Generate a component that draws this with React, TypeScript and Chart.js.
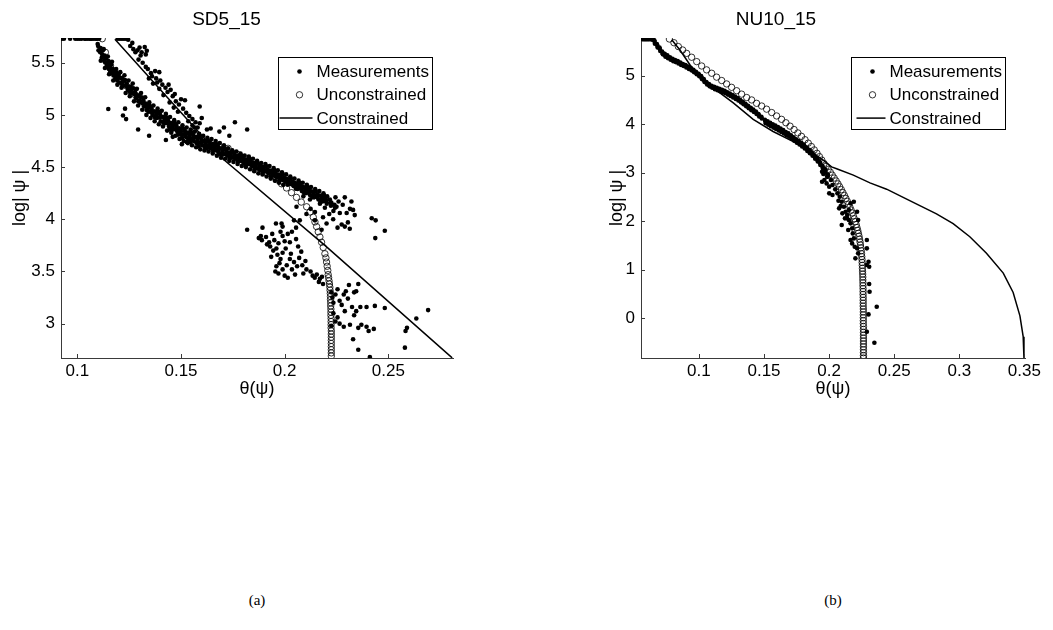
import React, { useEffect, useRef } from "react";
import { Chart, registerables } from "chart.js";

Chart.register(...registerables);

type Pt = [number, number];

const FONT = "'Liberation Sans', Arial, Helvetica, sans-serif";
const AXIS_COLOR = "#3a3a3a";

// ======================= SD5_15 (panel a) =======================
const sdXTicks = [0.1, 0.15, 0.2, 0.25];
const sdYTicks = [3, 3.5, 4, 4.5, 5, 5.5];

const sdTopRow: Pt[] = [
  [0.0925, 5.73], [0.0935, 5.73], [0.0965, 5.73], [0.099, 5.73], [0.1, 5.73], [0.101, 5.73],
  [0.102, 5.73], [0.1035, 5.73], [0.104, 5.73], [0.105, 5.73], [0.106, 5.73], [0.1065, 5.73],
  [0.107, 5.73], [0.108, 5.73], [0.109, 5.73], [0.1095, 5.73], [0.1105, 5.73], [0.1195, 5.73],
  [0.1205, 5.73], [0.1215, 5.73], [0.1225, 5.73], [0.1235, 5.73], [0.1245, 5.72],
];

const sdBand: Pt[] = [
  [0.110, 5.66], [0.1102, 5.62], [0.1098, 5.68], [0.111, 5.60], [0.1112, 5.64],
  [0.112, 5.58], [0.1118, 5.55], [0.1123, 5.62], [0.113, 5.52], [0.1132, 5.57],
  [0.114, 5.50], [0.1138, 5.54], [0.1142, 5.47], [0.115, 5.49], [0.1152, 5.44],
  [0.116, 5.45], [0.1158, 5.41], [0.1163, 5.48], [0.117, 5.40], [0.1172, 5.44],
  [0.118, 5.38], [0.1178, 5.42], [0.1183, 5.35], [0.119, 5.37], [0.1192, 5.33],
  [0.120, 5.36], [0.1203, 5.31], [0.1198, 5.39], [0.122, 5.32], [0.1222, 5.28], [0.1218, 5.35],
  [0.124, 5.27], [0.1238, 5.30], [0.1243, 5.24], [0.126, 5.24], [0.1262, 5.21], [0.1257, 5.27],
  [0.128, 5.19], [0.1278, 5.22], [0.1283, 5.16], [0.130, 5.14], [0.1297, 5.18], [0.1303, 5.12],
  [0.132, 5.11], [0.1322, 5.08], [0.1318, 5.14], [0.134, 5.06], [0.1338, 5.09], [0.1343, 5.03],
  [0.136, 5.03], [0.1358, 5.06], [0.1362, 5.00], [0.138, 5.00], [0.1383, 4.97], [0.1377, 5.03],
  [0.140, 4.98], [0.1402, 4.94], [0.1398, 5.01], [0.142, 4.95], [0.1423, 4.92], [0.1418, 4.98],
  [0.144, 4.92], [0.1442, 4.89], [0.1437, 4.95], [0.1445, 4.86],
  [0.146, 4.89], [0.1463, 4.86], [0.1458, 4.92],
  [0.148, 4.87], [0.1482, 4.84], [0.1477, 4.90], [0.1485, 4.81],
  [0.150, 4.84], [0.1502, 4.81], [0.1497, 4.87], [0.1505, 4.78],
  [0.152, 4.82], [0.1523, 4.79], [0.1518, 4.85],
  [0.154, 4.80], [0.1542, 4.77], [0.1537, 4.83], [0.1545, 4.74],
  [0.156, 4.78], [0.1562, 4.75], [0.1558, 4.81],
  [0.158, 4.76], [0.1582, 4.73], [0.1577, 4.79], [0.1585, 4.70],
  [0.160, 4.74], [0.1603, 4.71], [0.1598, 4.77],
  [0.162, 4.72], [0.1622, 4.69], [0.1617, 4.75], [0.1625, 4.68],
  [0.164, 4.71], [0.1642, 4.68], [0.1638, 4.74], [0.166, 4.69], [0.1663, 4.66], [0.1657, 4.72],
  [0.168, 4.67], [0.1682, 4.64], [0.1678, 4.70], [0.170, 4.65], [0.1702, 4.62], [0.1697, 4.68],
  [0.172, 4.63], [0.1723, 4.61], [0.1718, 4.66], [0.174, 4.61], [0.1742, 4.59], [0.1738, 4.64],
  [0.176, 4.60], [0.1763, 4.58], [0.1757, 4.62], [0.178, 4.58], [0.1782, 4.56], [0.1778, 4.61],
  [0.180, 4.56], [0.1803, 4.54], [0.1797, 4.59], [0.182, 4.55], [0.1822, 4.53], [0.1818, 4.57],
  [0.184, 4.53], [0.1843, 4.51], [0.1837, 4.55], [0.186, 4.51], [0.1862, 4.49], [0.1858, 4.54],
  [0.188, 4.49], [0.1883, 4.47], [0.1877, 4.52], [0.190, 4.48], [0.1902, 4.46], [0.1898, 4.50],
  [0.192, 4.46], [0.1923, 4.44], [0.1917, 4.48], [0.194, 4.44], [0.1942, 4.42], [0.1938, 4.46],
  [0.196, 4.42], [0.1963, 4.40], [0.1957, 4.44], [0.198, 4.40], [0.1982, 4.38], [0.1978, 4.42],
  [0.200, 4.38], [0.2003, 4.36], [0.1997, 4.40], [0.202, 4.36], [0.2022, 4.34], [0.2018, 4.38],
  [0.204, 4.34], [0.2043, 4.32], [0.2037, 4.36], [0.206, 4.32], [0.2062, 4.29], [0.2058, 4.34],
  [0.208, 4.30], [0.2083, 4.27], [0.2077, 4.32], [0.210, 4.28], [0.2102, 4.25], [0.2098, 4.30],
  [0.212, 4.26], [0.2123, 4.23], [0.2117, 4.28], [0.214, 4.24], [0.2142, 4.21], [0.2138, 4.26],
  [0.216, 4.22], [0.2163, 4.19], [0.2157, 4.24], [0.218, 4.20], [0.2182, 4.17], [0.2178, 4.22],
  [0.220, 4.18], [0.2203, 4.15], [0.2197, 4.20], [0.222, 4.16], [0.2223, 4.13],
  [0.224, 4.14], [0.2243, 4.11],
];

const sdBandEdges: Pt[] = [
  [0.1127, 5.63], [0.1113, 5.52], [0.1147, 5.56], [0.1133, 5.45], [0.1167, 5.51], [0.1153, 5.39],
  [0.1187, 5.44], [0.1173, 5.33], [0.1207, 5.41], [0.1193, 5.29], [0.1227, 5.38], [0.1213, 5.26],
  [0.1247, 5.33], [0.1233, 5.21], [0.1267, 5.30], [0.1253, 5.18], [0.1287, 5.25], [0.1273, 5.13],
  [0.1307, 5.21], [0.1293, 5.09], [0.1327, 5.17], [0.1313, 5.05], [0.1347, 5.12], [0.1333, 5.00],
  [0.1367, 5.09], [0.1353, 4.97], [0.1387, 5.06], [0.1373, 4.94], [0.1407, 5.04], [0.1393, 4.91],
  [0.1427, 5.01], [0.1413, 4.89], [0.1447, 4.98], [0.1433, 4.85], [0.1467, 4.95], [0.1453, 4.83],
  [0.1487, 4.93], [0.1473, 4.80], [0.1507, 4.90], [0.1493, 4.77], [0.1527, 4.88], [0.1513, 4.75],
  [0.1547, 4.86], [0.1533, 4.73], [0.1567, 4.84], [0.1553, 4.71], [0.1587, 4.82], [0.1573, 4.69],
  [0.1607, 4.80], [0.1593, 4.67], [0.1627, 4.78], [0.1613, 4.66], [0.1647, 4.77], [0.1633, 4.65],
  [0.1667, 4.75], [0.1653, 4.63], [0.1687, 4.73], [0.1673, 4.61], [0.1707, 4.71], [0.1693, 4.59],
  [0.1727, 4.68], [0.1713, 4.58], [0.1747, 4.66], [0.1733, 4.56], [0.1767, 4.65], [0.1753, 4.55],
  [0.1787, 4.63], [0.1773, 4.53], [0.1807, 4.61], [0.1793, 4.51], [0.1827, 4.60], [0.1813, 4.50],
  [0.1847, 4.58], [0.1833, 4.48], [0.1867, 4.56], [0.1853, 4.46], [0.1887, 4.54], [0.1873, 4.44],
  [0.1907, 4.53], [0.1893, 4.43], [0.1927, 4.51], [0.1913, 4.41], [0.1947, 4.49], [0.1933, 4.39],
  [0.1967, 4.47], [0.1953, 4.37], [0.1987, 4.45], [0.1973, 4.35], [0.2007, 4.43], [0.1993, 4.33],
  [0.2027, 4.41], [0.2047, 4.39], [0.2067, 4.37], [0.2087, 4.35], [0.2107, 4.33], [0.2127, 4.31],
  [0.2147, 4.29], [0.2167, 4.27], [0.2187, 4.25],
];

const sdBandFill: Pt[] = [
  [0.113, 5.558], [0.1134, 5.502], [0.115, 5.515], [0.1154, 5.46], [0.117, 5.433], [0.1174, 5.377],
  [0.119, 5.405], [0.1194, 5.35], [0.121, 5.353], [0.1214, 5.297], [0.123, 5.335], [0.1234, 5.28],
  [0.125, 5.273], [0.1254, 5.217], [0.127, 5.255], [0.1274, 5.20], [0.129, 5.188], [0.1294, 5.132],
  [0.131, 5.17], [0.1314, 5.115], [0.133, 5.103], [0.1334, 5.047], [0.135, 5.085], [0.1354, 5.03],
  [0.137, 5.033], [0.1374, 4.977], [0.139, 5.03], [0.1394, 4.975], [0.141, 4.983], [0.1414, 4.927],
  [0.143, 4.975], [0.1434, 4.92], [0.145, 4.923], [0.1454, 4.867], [0.147, 4.92], [0.1474, 4.865],
  [0.149, 4.873], [0.1494, 4.817], [0.151, 4.87], [0.1514, 4.815], [0.153, 4.828], [0.1534, 4.772],
  [0.155, 4.83], [0.1554, 4.775], [0.157, 4.788], [0.1574, 4.732], [0.159, 4.79], [0.1594, 4.735],
  [0.161, 4.748], [0.1614, 4.692], [0.163, 4.755], [0.1634, 4.70], [0.165, 4.718], [0.1654, 4.662],
  [0.167, 4.72], [0.1674, 4.665], [0.169, 4.678], [0.1694, 4.622], [0.171, 4.68], [0.1714, 4.625],
  [0.173, 4.638], [0.1734, 4.582], [0.175, 4.645], [0.1754, 4.59], [0.177, 4.608], [0.1774, 4.552],
  [0.179, 4.61], [0.1794, 4.555], [0.181, 4.573], [0.1814, 4.517], [0.183, 4.58], [0.1834, 4.525],
  [0.185, 4.538], [0.1854, 4.482], [0.187, 4.54], [0.1874, 4.485], [0.189, 4.503], [0.1894, 4.447],
  [0.191, 4.51], [0.1914, 4.455], [0.193, 4.468], [0.1934, 4.412], [0.195, 4.47], [0.1954, 4.415],
  [0.197, 4.428], [0.1974, 4.372], [0.199, 4.43], [0.1994, 4.375], [0.201, 4.388], [0.2014, 4.332],
  [0.203, 4.39], [0.2034, 4.335], [0.205, 4.348], [0.2054, 4.292], [0.207, 4.35], [0.2074, 4.295],
  [0.209, 4.308], [0.2094, 4.252], [0.211, 4.31], [0.2114, 4.255], [0.213, 4.268], [0.2134, 4.212],
  [0.215, 4.27], [0.2154, 4.215], [0.217, 4.228], [0.2174, 4.172], [0.219, 4.23], [0.2194, 4.175],
];

const sdUpperBranch: Pt[] = [
  [0.1255, 5.66], [0.1265, 5.69], [0.127, 5.63], [0.128, 5.60], [0.129, 5.62], [0.130, 5.645],
  [0.1305, 5.57], [0.131, 5.60], [0.1325, 5.65], [0.133, 5.58], [0.1335, 5.615], [0.1295, 5.53],
  [0.1315, 5.50], [0.133, 5.46], [0.134, 5.44], [0.1355, 5.40], [0.136, 5.37], [0.1375, 5.42],
  [0.138, 5.35], [0.1385, 5.31], [0.1395, 5.41], [0.140, 5.33], [0.141, 5.29], [0.1425, 5.26],
  [0.1435, 5.22], [0.144, 5.29], [0.145, 5.24], [0.146, 5.18], [0.147, 5.20], [0.1475, 5.13],
  [0.149, 5.10], [0.150, 5.15], [0.151, 5.06], [0.1519, 5.14], [0.1525, 5.02], [0.154, 4.99],
  [0.1555, 4.96], [0.157, 4.93], [0.159, 5.08], [0.160, 4.97], [0.159, 4.92], [0.1643, 4.87],
  [0.1707, 4.88], [0.176, 4.93], [0.1819, 4.86], [0.1733, 4.80], [0.1685, 4.84], [0.1625, 4.86],
  [0.1555, 4.90], [0.158, 4.88], [0.1345, 5.35], [0.1365, 5.30], [0.1395, 5.25], [0.1415, 5.19],
  [0.1445, 5.12], [0.1465, 5.07], [0.1485, 5.03], [0.1535, 4.94], [0.1565, 4.88],
];

const sdStray: Pt[] = [
  [0.1149, 5.057], [0.123, 5.06], [0.122, 4.995], [0.1235, 4.96], [0.1293, 4.86], [0.1346, 4.80],
  [0.1427, 4.76], [0.146, 4.79], [0.1504, 4.72], [0.1527, 4.74],
];

const sdBandEnd: Pt[] = [
  [0.2057, 4.12], [0.2073, 3.99], [0.209, 4.22], [0.2122, 4.19], [0.2146, 4.07], [0.2146, 3.99],
  [0.217, 4.15], [0.2178, 3.90], [0.2194, 4.11], [0.2202, 3.96], [0.2218, 4.19], [0.2234, 4.00],
  [0.225, 4.12], [0.2266, 4.06], [0.229, 3.93], [0.2299, 4.06], [0.2314, 3.91], [0.2322, 4.17],
  [0.233, 4.09], [0.2338, 4.04], [0.226, 4.17], [0.2245, 4.21], [0.228, 4.14], [0.2305, 3.97],
  [0.2275, 3.95], [0.2215, 4.05], [0.2185, 4.02], [0.2125, 4.10], [0.2105, 4.05], [0.2235, 4.08],
  [0.2255, 3.92], [0.2315, 4.10], [0.2205, 4.22], [0.2225, 4.16], [0.229, 4.21],
];

const sdCluster: Pt[] = [
  [0.1819, 3.90], [0.1893, 3.92], [0.1885, 3.84], [0.1875, 3.82], [0.189, 3.80], [0.191, 3.83],
  [0.1925, 3.78], [0.193, 3.74], [0.1915, 3.76], [0.194, 3.86], [0.195, 3.80], [0.196, 3.72],
  [0.1945, 3.70], [0.1965, 3.66], [0.197, 3.77], [0.198, 3.88], [0.199, 3.84], [0.200, 3.79],
  [0.2015, 3.86], [0.2005, 3.72], [0.199, 3.68], [0.198, 3.62], [0.1975, 3.58], [0.196, 3.55],
  [0.1955, 3.50], [0.197, 3.48], [0.199, 3.52], [0.200, 3.46], [0.201, 3.56], [0.2025, 3.62],
  [0.203, 3.67], [0.2045, 3.59], [0.2035, 3.52], [0.205, 3.47], [0.206, 3.55], [0.207, 3.63],
  [0.208, 3.69], [0.2065, 3.74], [0.2055, 3.81], [0.2035, 3.88], [0.2055, 3.92], [0.2085, 3.56],
  [0.210, 3.60], [0.2105, 3.52], [0.209, 3.48], [0.1985, 3.96], [0.2045, 3.99], [0.1958, 3.96],
  [0.199, 3.93], [0.2025, 3.78], [0.1935, 3.64], [0.2015, 3.44],
  [0.2125, 3.50], [0.2135, 3.46], [0.2145, 3.44], [0.2155, 3.47], [0.217, 3.43], [0.2165, 3.40],
  [0.218, 3.45], [0.2185, 3.38],
];

const sdTail: Pt[] = [
  [0.2225, 3.30], [0.223, 3.25], [0.2235, 3.20], [0.2245, 3.28], [0.2255, 3.33], [0.2265, 3.22],
  [0.2275, 3.18], [0.2285, 3.28], [0.2295, 3.31], [0.2305, 3.24], [0.231, 3.37], [0.2325, 3.16],
  [0.2335, 3.30], [0.2355, 3.38], [0.2345, 3.31], [0.2345, 3.12], [0.2335, 3.08], [0.229, 3.12],
  [0.2255, 3.06], [0.2245, 3.02], [0.2265, 3.00], [0.2235, 3.10], [0.2225, 2.98], [0.2285, 2.97],
  [0.2315, 2.99], [0.2365, 3.16], [0.2395, 3.16], [0.2435, 3.17], [0.2483, 3.15], [0.2355, 2.96],
  [0.237, 2.99], [0.2395, 2.97], [0.2405, 2.93], [0.243, 2.95], [0.233, 2.85], [0.2355, 2.75],
  [0.2411, 2.68], [0.2583, 2.93], [0.259, 2.96], [0.2635, 3.05], [0.2692, 3.13], [0.258, 2.77],
  [0.242, 4.01], [0.2439, 3.99], [0.2483, 3.89], [0.2437, 3.82],
];

const sdUnconstrained: Pt[] = [
  [0.112, 5.73], [0.1135, 5.60], [0.116, 5.47], [0.1195, 5.37], [0.1235, 5.28], [0.128, 5.19],
  [0.1325, 5.10], [0.137, 5.02], [0.1415, 4.96], [0.146, 4.89], [0.1505, 4.84], [0.155, 4.79],
  [0.1595, 4.75], [0.164, 4.72], [0.1685, 4.69], [0.1727, 4.68], [0.1775, 4.62], [0.1825, 4.56],
  [0.187, 4.50], [0.1915, 4.44], [0.196, 4.38], [0.1985, 4.34], [0.2009, 4.30], [0.2033, 4.255],
  [0.2057, 4.21], [0.208, 4.165], [0.2106, 4.12], [0.2122, 4.07], [0.2138, 4.02], [0.2146, 3.975],
  [0.2154, 3.93], [0.2162, 3.88], [0.217, 3.83], [0.2178, 3.78], [0.2186, 3.73], [0.2194, 3.67],
  [0.2199, 3.63], [0.2202, 3.59], [0.2205, 3.55], [0.2208, 3.51], [0.221, 3.47], [0.2212, 3.44],
  [0.2214, 3.41], [0.2216, 3.38], [0.2218, 3.35], [0.2219, 3.32], [0.222, 3.29], [0.2221, 3.26],
  [0.2221, 3.23], [0.2222, 3.20], [0.2222, 3.17], [0.2223, 3.14], [0.2223, 3.11], [0.2223, 3.08],
  [0.2224, 3.05], [0.2224, 3.02], [0.2224, 2.99], [0.2224, 2.96], [0.2225, 2.93], [0.2225, 2.90],
  [0.2225, 2.87], [0.2225, 2.84], [0.2225, 2.81], [0.2225, 2.78], [0.2225, 2.75], [0.2225, 2.72],
  [0.2225, 2.69],
];

const sdConstrained: Pt[] = [
  [0.1181, 5.725], [0.1431, 5.175], [0.1704, 4.575], [0.2194, 3.75], [0.2808, 2.672],
];

// ======================= NU10_15 (panel b) =======================
const nuXTicks = [0.1, 0.15, 0.2, 0.25, 0.3, 0.35];
const nuYTicks = [0, 1, 2, 3, 4, 5];

const nuTopRow: Pt[] = [
  [0.057, 5.75], [0.058, 5.75], [0.059, 5.75], [0.060, 5.75], [0.061, 5.75], [0.062, 5.75],
];

const nuBandUpper: Pt[] = [
  [0.0640, 5.74], [0.0648, 5.75],
  [0.0660, 5.70], [0.0662, 5.66], [0.0657, 5.73], [0.0680, 5.62], [0.0683, 5.58], [0.0677, 5.65],
  [0.0700, 5.55], [0.0703, 5.51], [0.0697, 5.58], [0.0720, 5.47], [0.0723, 5.44], [0.0717, 5.50],
  [0.0740, 5.42], [0.0743, 5.39], [0.0737, 5.45], [0.0760, 5.39], [0.0763, 5.36], [0.0757, 5.42],
  [0.0780, 5.36], [0.0783, 5.33], [0.0777, 5.38], [0.0800, 5.33], [0.0803, 5.30], [0.0797, 5.35],
  [0.0820, 5.30], [0.0823, 5.28], [0.0817, 5.32], [0.0840, 5.28], [0.0843, 5.25], [0.0837, 5.30],
  [0.0860, 5.25], [0.0863, 5.22], [0.0857, 5.27], [0.0880, 5.22], [0.0883, 5.20], [0.0877, 5.24],
  [0.0900, 5.20], [0.0903, 5.17], [0.0897, 5.22], [0.0920, 5.17], [0.0923, 5.14], [0.0917, 5.19],
  [0.0940, 5.14], [0.0943, 5.11], [0.0937, 5.16], [0.0960, 5.10], [0.0963, 5.07], [0.0957, 5.12],
  [0.0980, 5.06], [0.0983, 5.03], [0.0977, 5.08], [0.1000, 5.02], [0.1003, 4.99], [0.0997, 5.04],
  [0.1020, 4.96], [0.1023, 4.93], [0.1017, 4.99], [0.1040, 4.90], [0.1043, 4.87], [0.1037, 4.93],
  [0.1060, 4.85], [0.1063, 4.82], [0.1057, 4.87], [0.1080, 4.80], [0.1083, 4.78], [0.1077, 4.83],
  [0.1100, 4.77], [0.1103, 4.75], [0.1097, 4.79], [0.1120, 4.75], [0.1123, 4.72], [0.1117, 4.77],
  [0.1140, 4.73], [0.1143, 4.70], [0.1137, 4.75], [0.1160, 4.71], [0.1163, 4.68], [0.1157, 4.73],
  [0.1180, 4.69], [0.1183, 4.66], [0.1177, 4.71], [0.1200, 4.67], [0.1203, 4.64], [0.1197, 4.69],
  [0.1220, 4.64], [0.1223, 4.61], [0.1217, 4.66], [0.1240, 4.61], [0.1243, 4.58], [0.1237, 4.63],
  [0.1260, 4.58], [0.1263, 4.55], [0.1257, 4.60], [0.1280, 4.55], [0.1283, 4.52], [0.1277, 4.57],
  [0.1300, 4.52], [0.1303, 4.49], [0.1297, 4.54], [0.1320, 4.48], [0.1323, 4.45], [0.1317, 4.50],
  [0.1340, 4.44], [0.1343, 4.41], [0.1337, 4.46], [0.1360, 4.40], [0.1363, 4.37], [0.1357, 4.42],
  [0.1380, 4.36], [0.1383, 4.33], [0.1377, 4.38], [0.1400, 4.32], [0.1403, 4.29], [0.1397, 4.34],
  [0.1420, 4.28], [0.1423, 4.25], [0.1417, 4.30], [0.1440, 4.24], [0.1443, 4.21], [0.1437, 4.26],
  [0.1460, 4.19], [0.1463, 4.16], [0.1457, 4.21], [0.1480, 4.15], [0.1483, 4.12],
];

const nuBandLower: Pt[] = [
  [0.1510, 4.06], [0.1513, 4.02], [0.1507, 4.09], [0.1530, 4.03], [0.1533, 3.99], [0.1527, 4.06],
  [0.1550, 4.00], [0.1553, 3.96], [0.1547, 4.03], [0.1570, 3.97], [0.1573, 3.93], [0.1567, 4.00],
  [0.1590, 3.94], [0.1593, 3.90], [0.1587, 3.97], [0.1610, 3.91], [0.1613, 3.87], [0.1607, 3.94],
  [0.1630, 3.88], [0.1633, 3.84], [0.1627, 3.91], [0.1650, 3.85], [0.1653, 3.81], [0.1647, 3.88],
  [0.1670, 3.81], [0.1673, 3.77], [0.1667, 3.84], [0.1690, 3.78], [0.1693, 3.74], [0.1687, 3.81],
  [0.1710, 3.74], [0.1713, 3.70], [0.1707, 3.77], [0.1730, 3.70], [0.1733, 3.66], [0.1727, 3.73],
  [0.1750, 3.66], [0.1753, 3.62], [0.1747, 3.69], [0.1770, 3.62], [0.1773, 3.58], [0.1767, 3.65],
  [0.1790, 3.58], [0.1793, 3.54], [0.1787, 3.61], [0.1810, 3.54], [0.1813, 3.50], [0.1807, 3.57],
  [0.1830, 3.49], [0.1833, 3.45], [0.1827, 3.52], [0.1850, 3.44], [0.1853, 3.40], [0.1847, 3.47],
  [0.1870, 3.39], [0.1873, 3.35], [0.1867, 3.42], [0.1890, 3.33], [0.1893, 3.29], [0.1887, 3.36],
  [0.1910, 3.27], [0.1913, 3.23], [0.1907, 3.30], [0.1930, 3.20], [0.1933, 3.16], [0.1927, 3.23],
  [0.1950, 3.12], [0.1953, 3.08], [0.1947, 3.15], [0.1970, 3.04], [0.1968, 3.00],
  [0.1990, 2.96], [0.1985, 2.92],
];

const nuDrop: Pt[] = [
  [0.1946, 3.021], [0.1971, 3.069], [0.1989, 2.918], [0.1964, 2.849], [0.2014, 2.849],
  [0.2026, 2.746], [0.2001, 2.712], [0.2047, 2.657], [0.2064, 2.574], [0.2026, 2.540],
  [0.2082, 2.505], [0.2072, 2.423], [0.2097, 2.402], [0.2089, 2.313], [0.2114, 2.299],
  [0.2077, 2.265], [0.2127, 2.196], [0.2102, 2.162], [0.2139, 2.127], [0.2122, 2.059],
  [0.2152, 2.024], [0.2097, 1.921], [0.2165, 1.956], [0.2177, 1.853], [0.2147, 1.818],
  [0.2182, 1.749], [0.2165, 1.612], [0.2190, 1.646], [0.2177, 1.543], [0.2197, 1.474],
  [0.2202, 1.234], [0.2223, 1.337], [0.2215, 1.440], [0.2190, 2.402], [0.2215, 2.196],
  [0.2223, 2.024], [0.2290, 1.612], [0.2290, 1.440], [0.2303, 1.165], [0.2308, 1.062],
  [0.2290, 1.097], [0.2308, 0.705], [0.2311, 0.547], [0.2303, 0.079], [0.2366, 0.237],
  [0.2290, -0.278], [0.2348, -0.505], [0.1946, 2.815], [0.1956, 2.973], [0.1981, 2.780],
  [0.2001, 2.574], [0.2152, 2.230], [0.2165, 2.368], [0.2139, 2.059],
];

const nuUnconstrained: Pt[] = [
  [0.0773, 5.756], [0.0808, 5.68], [0.0842, 5.60], [0.0875, 5.53], [0.0906, 5.46], [0.0944, 5.38],
  [0.0983, 5.29], [0.1021, 5.20], [0.1059, 5.12], [0.1098, 5.05], [0.1136, 4.97], [0.1175, 4.90],
  [0.1213, 4.83], [0.1251, 4.76], [0.129, 4.69], [0.1328, 4.62], [0.1367, 4.55], [0.1405, 4.50],
  [0.1443, 4.43], [0.1482, 4.375], [0.152, 4.31], [0.1559, 4.24], [0.1597, 4.17], [0.1635, 4.10],
  [0.1668, 4.03], [0.1700, 3.96], [0.1731, 3.89], [0.1760, 3.82], [0.1788, 3.75], [0.1815, 3.68],
  [0.1840, 3.61], [0.1864, 3.54], [0.1886, 3.47], [0.1907, 3.40], [0.1926, 3.33], [0.1944, 3.26],
  [0.1961, 3.19], [0.1977, 3.13], [0.1993, 3.07], [0.2009, 3.01], [0.2024, 2.95], [0.2039, 2.89],
  [0.2054, 2.83], [0.2068, 2.77], [0.2081, 2.71], [0.2094, 2.65], [0.2106, 2.59], [0.2118, 2.53],
  [0.2129, 2.47], [0.2140, 2.41], [0.2150, 2.35], [0.2160, 2.29], [0.2169, 2.23], [0.2178, 2.17],
  [0.2186, 2.11], [0.2194, 2.05], [0.2201, 1.99], [0.2208, 1.93], [0.2214, 1.87], [0.2220, 1.81],
  [0.2225, 1.75], [0.2230, 1.69], [0.2234, 1.63], [0.2238, 1.57], [0.2241, 1.51], [0.2244, 1.45],
  [0.2247, 1.39], [0.2249, 1.33], [0.2251, 1.27], [0.2253, 1.21], [0.2254, 1.15], [0.2255, 1.09],
  [0.2256, 1.03], [0.2257, 0.97], [0.2258, 0.91], [0.2259, 0.85], [0.2259, 0.79], [0.2260, 0.73],
  [0.2260, 0.67], [0.2261, 0.61], [0.2261, 0.55], [0.2261, 0.49], [0.2262, 0.43], [0.2262, 0.37],
  [0.2262, 0.31], [0.2262, 0.25], [0.2263, 0.19], [0.2263, 0.13], [0.2263, 0.07], [0.2263, 0.01],
  [0.2263, -0.05], [0.2263, -0.11], [0.2264, -0.17], [0.2264, -0.23], [0.2264, -0.29],
  [0.2264, -0.35], [0.2264, -0.41], [0.2264, -0.47], [0.2264, -0.53], [0.2264, -0.59],
  [0.2264, -0.65], [0.2264, -0.71], [0.2264, -0.77], [0.2264, -0.82],
];

const nuConstrained: Pt[] = [
  [0.0791, 5.74], [0.0854, 5.53], [0.0932, 5.22], [0.1008, 4.97], [0.111, 4.75], [0.1264, 4.44],
  [0.1417, 4.10], [0.157, 3.85], [0.1725, 3.64], [0.1878, 3.40], [0.1955, 3.26], [0.2019, 3.12],
  [0.2058, 3.08], [0.2186, 2.95], [0.2314, 2.79], [0.2442, 2.66], [0.2569, 2.49], [0.2697, 2.32],
  [0.2825, 2.15], [0.2953, 1.95], [0.3081, 1.68], [0.3209, 1.34], [0.3338, 0.93], [0.3414, 0.53],
  [0.3466, 0.05], [0.3491, -0.38], [0.3497, -0.82],
];

// ======================= chart building =======================
const toXY = (pts: Pt[]) => pts.map(([x, y]) => ({ x, y }));

const decorPlugin = {
  id: "matlabDecor",
  afterDraw(chart: any, _args: any, opts: any) {
    const { ctx, chartArea: a, scales } = chart;
    ctx.save();
    ctx.strokeStyle = AXIS_COLOR;
    ctx.lineWidth = 1;
    ctx.beginPath();
    for (const t of scales.x.ticks) {
      const px = Math.round(scales.x.getPixelForValue(t.value)) + 0.5;
      ctx.moveTo(px, a.bottom);
      ctx.lineTo(px, a.bottom - 4);
    }
    for (const t of scales.y.ticks) {
      const py = Math.round(scales.y.getPixelForValue(t.value)) + 0.5;
      ctx.moveTo(a.left, py);
      ctx.lineTo(a.left + 4, py);
    }
    ctx.stroke();

    const labels: string[] = chart.data.datasets.map((d: any) => d.label);
    ctx.font = `17px ${FONT}`;
    const tw = Math.max(...labels.map((l) => ctx.measureText(l).width));
    const w = Math.round(38 + tw + 4);
    const h = 72;
    const bx = Math.round(a.right - opts.right - w) + 0.5;
    const by = Math.round(a.top + opts.top) + 0.5;
    ctx.fillStyle = "#fff";
    ctx.fillRect(bx, by, w, h);
    ctx.strokeStyle = "#000";
    ctx.lineWidth = 1;
    ctx.strokeRect(bx, by, w, h);
    ctx.textBaseline = "middle";
    ctx.textAlign = "left";
    labels.forEach((label, i) => {
      const ry = by + 14 + i * 23.3;
      ctx.fillStyle = "#000";
      ctx.strokeStyle = "#000";
      if (i === 0) {
        ctx.beginPath();
        ctx.arc(bx + 21, ry, 2.3, 0, Math.PI * 2);
        ctx.fill();
      } else if (i === 1) {
        ctx.lineWidth = 0.8;
        ctx.beginPath();
        ctx.arc(bx + 21, ry, 3.2, 0, Math.PI * 2);
        ctx.stroke();
      } else {
        ctx.lineWidth = 1.5;
        ctx.beginPath();
        ctx.moveTo(bx + opts.lineFrom, ry);
        ctx.lineTo(bx + 34, ry);
        ctx.stroke();
      }
      ctx.fillText(label, bx + 38, ry + 1);
    });
    ctx.restore();
  },
};

interface PanelSpec {
  title: string;
  meas: Pt[];
  uncon: Pt[];
  con: Pt[];
  xMin: number;
  xMax: number;
  yMin: number;
  yMax: number;
  xTicks: number[];
  yTicks: number[];
  yAxisWidth: number;
  yTitlePad: number;
  padRight: number;
  legendRight: number;
  lineFrom: number;
}

function makeConfig(p: PanelSpec): any {
  const tickFont = { size: 17, family: FONT };
  const titleFont = { size: 18, family: FONT };
  return {
    type: "scatter",
    data: {
      datasets: [
        {
          label: "Measurements",
          data: toXY(p.meas),
          pointRadius: 2.3,
          pointBackgroundColor: "#000",
          pointBorderWidth: 0,
          showLine: false,
          order: 3,
        },
        {
          label: "Unconstrained",
          data: toXY(p.uncon),
          pointRadius: 3.2,
          pointBackgroundColor: "rgba(0,0,0,0)",
          pointBorderColor: "#000",
          pointBorderWidth: 0.8,
          showLine: false,
          order: 2,
        },
        {
          label: "Constrained",
          data: toXY(p.con),
          showLine: true,
          pointRadius: 0,
          borderColor: "#000",
          borderWidth: 1.5,
          fill: false,
          tension: 0,
          order: 1,
        },
      ],
    },
    options: {
      responsive: false,
      animation: false,
      devicePixelRatio: 1,
      events: [],
      layout: { padding: { left: 0, right: p.padRight, top: 0, bottom: 0 } },
      plugins: {
        legend: { display: false },
        tooltip: { enabled: false },
        title: {
          display: true,
          text: p.title,
          color: "#000",
          font: { size: 19, family: FONT, weight: "normal" },
          padding: { top: 8.6, bottom: 6.6 },
        },
        matlabDecor: { right: p.legendRight, top: 19, lineFrom: p.lineFrom },
      },
      scales: {
        x: {
          type: "linear",
          min: p.xMin,
          max: p.xMax,
          afterBuildTicks: (s: any) => {
            s.ticks = p.xTicks.map((v) => ({ value: v }));
          },
          afterFit: (s: any) => {
            s.height = 42;
          },
          grid: { display: false, drawTicks: false },
          border: { display: true, color: AXIS_COLOR, width: 1 },
          ticks: {
            padding: 3,
            color: "#000",
            font: tickFont,
            autoSkip: false,
            maxRotation: 0,
            callback: (v: any) => String(v),
          },
          title: {
            display: true,
            text: "θ(ψ)",
            color: "#000",
            font: titleFont,
            padding: { top: 0, bottom: 0 },
          },
        },
        y: {
          type: "linear",
          min: p.yMin,
          max: p.yMax,
          afterBuildTicks: (s: any) => {
            s.ticks = p.yTicks.map((v) => ({ value: v }));
          },
          afterFit: (s: any) => {
            s.width = p.yAxisWidth;
          },
          grid: { display: false, drawTicks: false },
          border: { display: true, color: AXIS_COLOR, width: 1 },
          ticks: {
            padding: 6,
            color: "#000",
            font: tickFont,
            autoSkip: false,
            callback: (v: any) => String(v),
          },
          title: {
            display: true,
            text: "log| ψ |",
            color: "#000",
            font: titleFont,
            padding: { top: p.yTitlePad, bottom: 0 },
          },
        },
      },
    },
    plugins: [decorPlugin],
  };
}

const panelA: PanelSpec = {
  title: "SD5_15",
  meas: [
    ...sdTopRow, ...sdBand, ...sdBandEdges, ...sdBandFill, ...sdUpperBranch, ...sdStray,
    ...sdBandEnd, ...sdCluster, ...sdTail,
  ],
  uncon: sdUnconstrained,
  con: sdConstrained,
  xMin: 0.0921,
  xMax: 0.2812,
  yMin: 2.671,
  yMax: 5.737,
  xTicks: sdXTicks,
  yTicks: sdYTicks,
  yAxisWidth: 61,
  yTitlePad: 9.2,
  padRight: 73,
  legendRight: 21,
  lineFrom: 1,
};

const panelB: PanelSpec = {
  title: "NU10_15",
  meas: [...nuTopRow, ...nuBandUpper, ...nuBandLower, ...nuDrop],
  uncon: nuUnconstrained,
  con: nuConstrained,
  xMin: 0.0555,
  xMax: 0.3505,
  yMin: -0.82,
  yMax: 5.777,
  xTicks: nuXTicks,
  yTicks: nuYTicks,
  yAxisWidth: 114,
  yTitlePad: 78.9,
  padRight: 28,
  legendRight: 20,
  lineFrom: 5,
};

function Panel({ spec, left }: { spec: PanelSpec; left: number }) {
  const ref = useRef<HTMLCanvasElement | null>(null);
  useEffect(() => {
    if (!ref.current) return;
    const chart = new Chart(ref.current, makeConfig(spec));
    return () => chart.destroy();
  }, [spec]);
  return (
    <canvas
      ref={ref}
      width={526}
      height={400}
      style={{ position: "absolute", left, top: 0, width: 526, height: 400 }}
    />
  );
}

const captionStyle: React.CSSProperties = {
  position: "absolute",
  top: 592,
  width: 60,
  textAlign: "center",
  fontFamily: "'Liberation Serif', 'Times New Roman', serif",
  fontSize: 15,
  lineHeight: "16px",
  color: "#000",
};

export default function App() {
  return (
    <div
      style={{
        position: "absolute",
        left: 0,
        top: 0,
        width: 1053,
        height: 630,
        background: "#fff",
        overflow: "hidden",
      }}
    >
      <Panel spec={panelA} left={0} />
      <Panel spec={panelB} left={527} />
      <div style={{ ...captionStyle, left: 257 - 30 }}>(a)</div>
      <div style={{ ...captionStyle, left: 833 - 30 }}>(b)</div>
    </div>
  );
}
